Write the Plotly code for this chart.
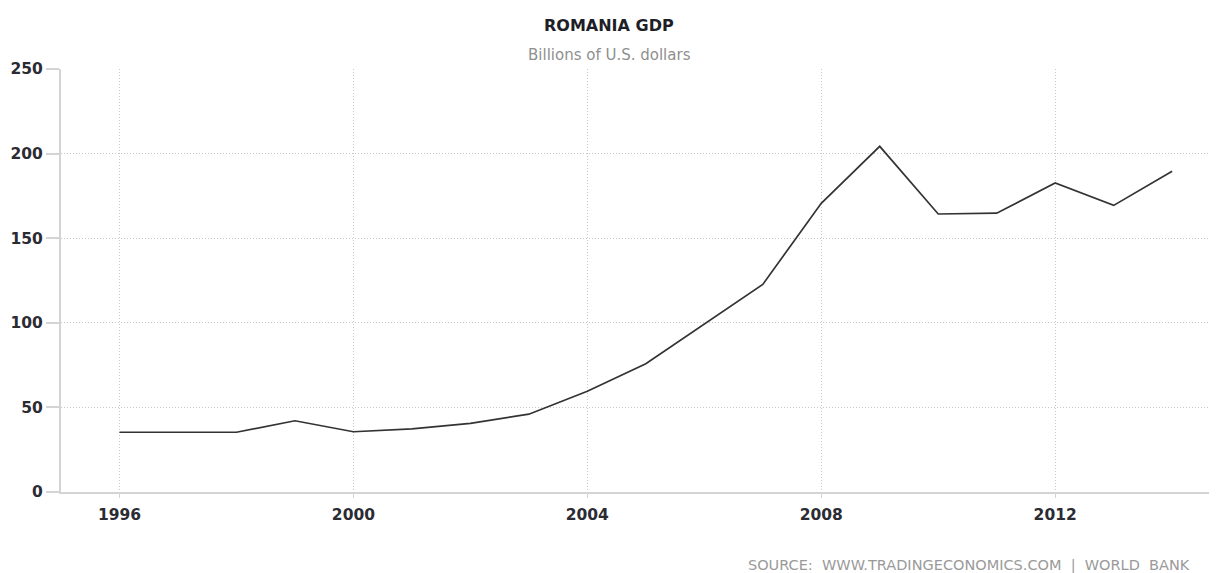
import plotly.graph_objects as go

years = [1996, 1997, 1998, 1999, 2000, 2001, 2002, 2003, 2004, 2005,
         2006, 2007, 2008, 2009, 2010, 2011, 2012, 2013, 2014]
gdp = [35.3, 35.3, 35.3, 42.1, 35.6, 37.3, 40.6, 46.0, 59.5, 75.8,
       99.2, 122.7, 170.6, 204.3, 164.3, 164.8, 182.6, 169.4, 189.6]

x_ticks = [1996, 2000, 2004, 2008, 2012]
y_ticks = [0, 50, 100, 150, 200, 250]

title_text = "ROMANIA GDP"
subtitle_text = "Billions of U.S. dollars"
source_text = "SOURCE:\u00a0\u00a0WWW.TRADINGECONOMICS.COM\u00a0\u00a0|\u00a0\u00a0WORLD\u00a0\u00a0BANK"

# page has an 8px body margin; figure placed so the plot area matches the reference
W, H = 1209, 565
L, R, T, B = 53, 1, 61, 81
PW = W - L - R
PH = H - T - B


def px(x):
    return (x - L) / PW


def py(y):
    return (H - B - y) / PH


fig = go.Figure()
fig.add_trace(go.Scatter(
    x=years, y=gdp, mode="lines",
    line=dict(color="#333333", width=1.7),
    hoverinfo="x+y", showlegend=False,
))

axis_font = dict(family="DejaVu Sans", size=15.5, color="#2b2b33", weight="bold")

fig.update_layout(
    width=W, height=H,
    margin=dict(l=L, r=R, t=T, b=B),
    paper_bgcolor="white", plot_bgcolor="white",
    xaxis=dict(
        range=[1995, 2014.75], tickvals=x_ticks, ticktext=[str(v) for v in x_ticks],
        showgrid=True, gridcolor="#c8c8c8", griddash="1px,2px", gridwidth=1,
        showline=True, linecolor="#d4d4d4", linewidth=2,
        ticks="outside", ticklen=4, tickcolor="#d4d4d4", tickwidth=1,
        ticklabelstandoff=3,
        tickfont=axis_font, zeroline=False, fixedrange=True,
    ),
    yaxis=dict(
        range=[0, 250], tickvals=y_ticks,
        showgrid=True, gridcolor="#c8c8c8", griddash="1px,2px", gridwidth=1,
        showline=True, linecolor="#d4d4d4", linewidth=2,
        ticks="outside", ticklen=13, tickcolor="#d4d4d4", tickwidth=2,
        tickfont=axis_font, zeroline=False, fixedrange=True,
    ),
    annotations=[
        dict(text=title_text, xref="paper", yref="paper",
             x=px(601), y=py(17),
             xanchor="center", yanchor="middle", showarrow=False,
             font=dict(family="DejaVu Sans", size=16, color="#1e1e28", weight="bold")),
        dict(text=subtitle_text, xref="paper", yref="paper",
             x=px(601.5), y=py(47),
             xanchor="center", yanchor="middle", showarrow=False,
             font=dict(family="DejaVu Sans", size=15, color="#8f8f8f")),
        dict(text=source_text, xref="paper", yref="paper",
             x=px(1184), y=py(557),
             xanchor="right", yanchor="middle", showarrow=False,
             font=dict(family="DejaVu Sans", size=14.5, color="#9a9a9a")),
    ],
)

fig.write_html("out.html")
